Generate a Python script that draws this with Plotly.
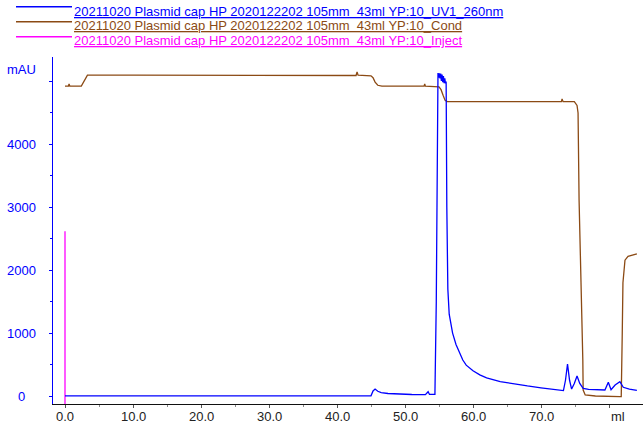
import plotly.graph_objects as go

# ---------------- data ----------------
ml_uv = [0, 2.5, 10, 20, 30, 40, 45.0, 45.3, 45.6, 46.0, 46.5, 47.5, 49, 51, 53.0, 53.2, 53.4, 53.6,
         54.4, 54.6, 54.75, 54.85, 54.95, 55.05, 55.15, 55.25, 55.35, 55.45, 55.55, 55.65, 55.75,
         55.85, 55.95, 56.05, 56.15, 56.3, 56.5, 57.0, 57.5, 58.0, 58.5, 59, 60, 61, 62, 64, 66, 68,
         70, 72, 73.3, 73.6, 73.9, 74.2, 74.5, 74.9, 75.3, 75.7, 76.2, 77, 78, 79.4, 79.9, 80.3,
         80.9, 81.6, 82.1, 83, 84.1]
uv = [2, 2, 2, 2, 2, 2, 4, 80, 110, 75, 55, 40, 30, 24, 22, 40, 68, 25,
      25, 1500, 5000, 5135, 5060, 5130, 5050, 5125, 5010, 5110, 4990, 5085, 4975,
      5050, 4970, 5000, 3000, 1700, 1300, 1000, 820, 680, 572, 490, 400, 335, 290, 230, 190, 160,
      130, 105, 85, 250, 509, 250, 110, 200, 318, 200, 122, 105, 100, 95, 218, 100,
      175, 227, 138, 110, 90]

ml_cond = [0, 0.5, 0.6, 0.7, 2.4, 2.8, 3.3, 10, 20, 30, 42.8, 42.95, 43.1, 45.0, 45.3, 45.6, 46.0,
           46.6, 52.8, 52.9, 53.0, 55.0, 55.3, 55.6, 55.9, 56.2, 60, 70, 73.0, 73.1, 73.25, 74.9,
           75.3, 75.45, 75.6, 76.15, 76.2, 76.5, 78, 81.6, 81.8, 81.95, 82.05, 82.35, 82.8, 84.1]
cond = [4928, 4928, 4960, 4928, 4928, 5010, 5100, 5100, 5095, 5090, 5095, 5151, 5100, 5090, 5060,
        4990, 4940, 4925, 4925, 4960, 4925, 4915, 4870, 4780, 4700, 4680, 4680, 4680, 4680, 4722,
        4680, 4679, 4620, 4500, 3116, 572, 95, 16, 0, -11, -11, 1000, 1800, 2160, 2220, 2258]

ml_inject = [0, 0]
inject = [-130, 2620]

legend_names = [
    "20211020 Plasmid cap HP 2020122202 105mm&nbsp; 43ml YP:10_UV1_260nm",
    "20211020 Plasmid cap HP 2020122202 105mm&nbsp; 43ml YP:10_Cond",
    "20211020 Plasmid cap HP 2020122202 105mm&nbsp; 43ml YP:10_Inject",
]
x_ticks = [0, 10, 20, 30, 40, 50, 60, 70]
x_tick_text = ["0.0", "10.0", "20.0", "30.0", "40.0", "50.0", "60.0", "70.0"]
y_ticks = [0, 1000, 2000, 3000, 4000]

BLUE = "#0000ff"
BROWN = "#8b4a14"
PINK = "#ff00ff"
colors = [BLUE, BROWN, PINK]
FONT = "Arial, Liberation Sans, sans-serif"

W, H = 643, 425
L, R, T, B = 53, 0, 57, 21
PW, PH = W - L - R, H - T - B


def px(xp):
    return (xp - L) / PW


def py(yp):
    return (H - B - yp) / PH


fig = go.Figure()
fig.add_trace(go.Scatter(x=ml_inject, y=inject, mode="lines", line=dict(color=PINK, width=1.3),
                         showlegend=False))
fig.add_trace(go.Scatter(x=ml_cond, y=cond, mode="lines", line=dict(color=BROWN, width=1.3),
                         showlegend=False))
fig.add_trace(go.Scatter(x=ml_uv, y=uv, mode="lines", line=dict(color=BLUE, width=1.3),
                         showlegend=False))

annotations = []
shapes = []
# legend rows
line_y = [6.7, 21.7, 36.7]
text_y = [11.5, 25.5, 40]
for name, c, ly, ty in zip(legend_names, colors, line_y, text_y):
    shapes.append(dict(type="line", xref="paper", yref="paper", x0=px(16), x1=px(72),
                       y0=py(ly), y1=py(ly), line=dict(color=c, width=1.5)))
    annotations.append(dict(xref="paper", yref="paper", x=px(72), y=py(ty), xanchor="left",
                            yanchor="middle", text="<u>" + name + "</u>", showarrow=False,
                            font=dict(family=FONT, size=13, color=c)))

# y tick labels (centered)
for v in y_ticks:
    annotations.append(dict(xref="paper", yref="y", x=px(21), y=v, xanchor="center",
                            yanchor="middle", text=str(v), showarrow=False,
                            font=dict(family=FONT, size=13, color=BLUE)))
annotations.append(dict(xref="paper", yref="paper", x=px(21), y=py(69), xanchor="center",
                        yanchor="middle", text="mAU", showarrow=False,
                        font=dict(family=FONT, size=13, color=BLUE)))
# x tick labels
for v, t in zip(x_ticks, x_tick_text):
    annotations.append(dict(xref="x", yref="paper", x=v, y=py(416.5), xanchor="center",
                            yanchor="middle", text=t, showarrow=False,
                            font=dict(family=FONT, size=13, color="#222222")))
annotations.append(dict(xref="paper", yref="paper", x=px(618), y=py(416.5), xanchor="center",
                        yanchor="middle", text="ml", showarrow=False,
                        font=dict(family=FONT, size=13, color="#222222")))

fig.update_layout(
    width=W, height=H,
    margin=dict(l=L, r=R, t=T, b=B, pad=0, autoexpand=False),
    paper_bgcolor="white", plot_bgcolor="white",
    showlegend=False,
    annotations=annotations,
    shapes=shapes,
    xaxis=dict(range=[(L - 65) / 6.8, (W - 65) / 6.8], tickvals=x_ticks + [80],
               automargin=False, showticklabels=False,
               showgrid=False, zeroline=False, showline=True, linecolor="#111111", linewidth=1,
               ticks="outside", ticklen=3, tickcolor="#555555",
               minor=dict(dtick=5, tick0=0, ticks="outside", ticklen=2, tickcolor="#888888",
                          showgrid=False)),
    yaxis=dict(range=[(396 - 404) / 0.0629, (396 - 57) / 0.0629], tickvals=[0, 1000, 2000, 3000, 4000, 5000],
               automargin=False,
               showticklabels=False, showgrid=False, zeroline=False, showline=True,
               linecolor=BLUE, linewidth=1, ticks="outside", ticklen=3, tickcolor=BLUE,
               minor=dict(dtick=500, tick0=0, ticks="outside", ticklen=2, tickcolor=BLUE,
                          showgrid=False)),
)

fig.write_html("out.html", config={"displayModeBar": False},
               post_script="document.body.style.margin='0';document.body.style.overflow='hidden';")
